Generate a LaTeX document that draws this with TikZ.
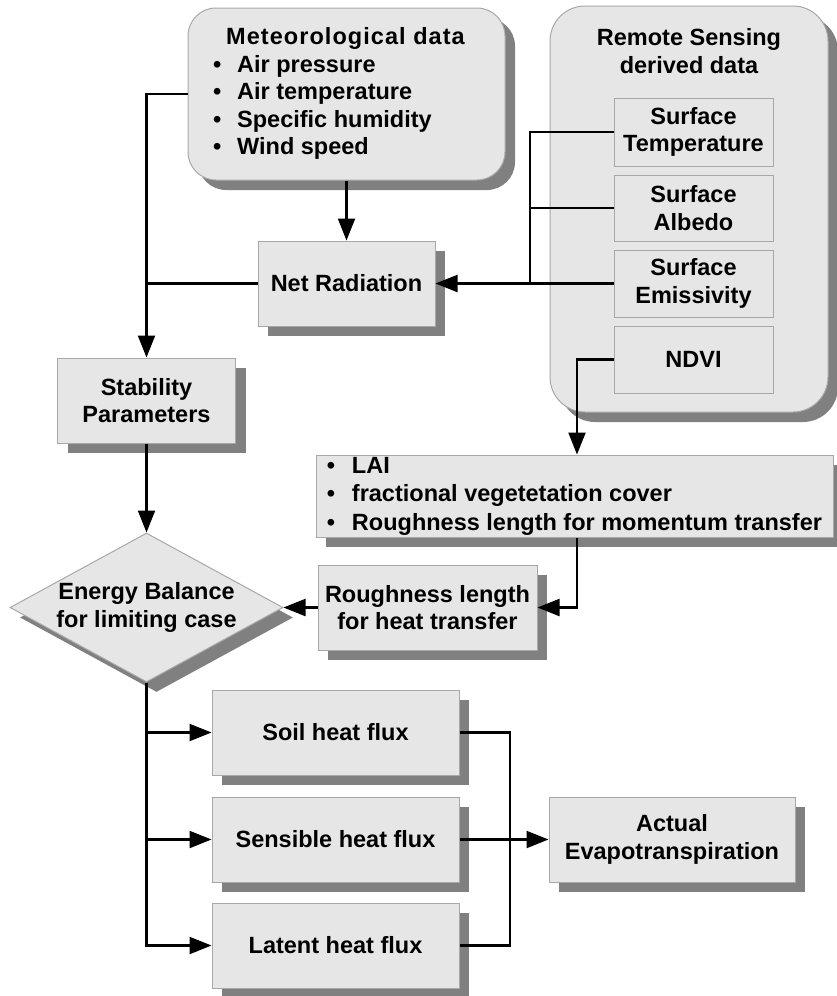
\documentclass[tikz,border=0pt]{standalone}
\usepackage{fontspec}
\setmainfont{Liberation Sans}
\usetikzlibrary{shapes.geometric,shadows,arrows.meta}
\definecolor{boxfill}{HTML}{E6E6E6}
\definecolor{boxline}{HTML}{A8A8A8}
\definecolor{shadowgray}{HTML}{808080}
\begin{document}
\begin{tikzpicture}[x=1pt,y=-1pt,
  every node/.style={font=\bfseries\fontsize{23.5}{27.5}\selectfont, inner sep=0pt},
  shad/.style={drop shadow={shadow xshift=10pt,shadow yshift=-10pt,fill=shadowgray,opacity=1}},
  box/.style={draw=boxline, line width=1pt, fill=boxfill, align=center, shad},
  inbox/.style={draw=boxline, line width=1pt, fill=boxfill, align=center, minimum width=159pt},
  conn/.style={line width=2.2pt, black},
  arr/.style={conn, -{Triangle[length=22pt,width=17pt]}},
]
\useasboundingbox (0,0) rectangle (837,996);

% Meteorological data
\node[box, rounded corners=28pt, minimum width=317pt, minimum height=172pt] (met) at (346.5,94)
 {\begin{tabular}{@{}l@{}}
  \hspace*{13pt}{\addfontfeatures{LetterSpace=4.5}Meteorological data}\hspace*{15pt}\\
  \makebox[24pt][l]{\textbullet}Air pressure\\
  \makebox[24pt][l]{\textbullet}Air temperature\\
  \makebox[24pt][l]{\textbullet}Specific humidity\\
  \makebox[24pt][l]{\textbullet}Wind speed
 \end{tabular}};

% Remote sensing group
\node[box, rounded corners=35pt, minimum width=278pt, minimum height=406pt] (rs) at (689,209) {};
\node[align=center] (rstitle) at (689,51) {Remote Sensing\\derived data};
\node[inbox, minimum height=68pt] (st) at (693.5,132) {Surface\\Temperature};
\node[inbox, minimum height=66pt] (sa) at (693.5,208) {Surface\\Albedo};
\node[inbox, minimum height=67pt] (se) at (693.5,283.5) {Surface\\Emissivity};
\node[inbox, minimum height=67pt] (ndvi) at (693.5,359.5) {NDVI};

% Middle
\node[box, minimum width=177pt, minimum height=85pt] (net) at (346.5,283.5) {Net Radiation};
\node[box, minimum width=178pt, minimum height=85pt] (stab) at (146.5,400.5) {Stability\\Parameters};
\node[box, minimum width=517pt, minimum height=82pt, align=left, font=\bfseries\fontsize{23.5}{28.5}\selectfont] (lai) at (574.5,496)
 {\makebox[25pt][l]{\textbullet}LAI\\
  \makebox[25pt][l]{\textbullet}fractional vegetetation cover\\
  \makebox[25pt][l]{\textbullet}Roughness length for momentum transfer};
\node[box, minimum width=219pt, minimum height=85pt] (rht) at (427.5,607.5) {Roughness length\\for heat transfer};
\node[diamond, draw=boxline, line width=1pt, fill=boxfill, shad, aspect=1.83,
      minimum width=273pt, minimum height=149pt, align=center] (eb) at (146.5,607.5)
 {Energy Balance\\for limiting case};

% Bottom
\node[box, minimum width=247pt, minimum height=85pt] (soil) at (335.5,732.5) {Soil heat flux};
\node[box, minimum width=247pt, minimum height=85pt] (sens) at (335.5,839.5) {Sensible heat flux};
\node[box, minimum width=247pt, minimum height=85pt] (lat) at (335.5,945.5) {Latent heat flux};
\node[box, minimum width=246pt, minimum height=85pt] (aet) at (672,839.5) {Actual\\Evapotranspiration};

% helper coordinates
\coordinate (j) at (530,283.5);
\coordinate (nd) at (577,0);
\coordinate (c) at (510,839.5);

% Connectors
\draw[arr] (met) -- (net);
\draw[arr] (met.west) -| (stab.north);
\draw[conn] (net.west) -- (net.west -| stab.north);
\draw[conn] (st.west) -| (j);
\draw[conn] (sa.west) -- (sa.west -| j);
\draw[arr] (se.west) -- (net.east);
\draw[arr] (ndvi.west) -| (nd |- lai.north);
\draw[arr] (nd |- lai.south) |- (rht.east);
\draw[arr] (rht.west) -- (eb.east);
\draw[arr] (stab.south) -- (eb.north);
\draw[arr] (eb.south) |- (soil.west);
\draw[arr] (eb.south) |- (sens.west);
\draw[arr] (eb.south) |- (lat.west);
\draw[conn] (soil.east) -| (c) |- (lat.east);
\draw[arr] (sens.east) -- (aet.west);
\end{tikzpicture}
\end{document}
